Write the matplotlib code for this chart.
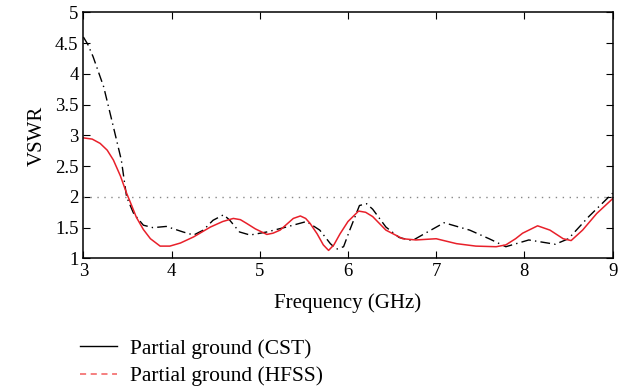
import matplotlib
matplotlib.use("Agg")
import matplotlib.pyplot as plt
from matplotlib.lines import Line2D

plt.rcParams['font.family'] = ['Liberation Serif', 'DejaVu Serif']

# HFSS curve (red solid in plot)
hfss_f = [3.0, 3.1, 3.19, 3.27, 3.34, 3.42, 3.49, 3.55, 3.6, 3.68, 3.76, 3.87, 3.98, 4.1, 4.25,
          4.44, 4.58, 4.7, 4.78, 4.85, 4.95, 5.08, 5.15, 5.23, 5.38, 5.46, 5.52, 5.57, 5.65,
          5.72, 5.78, 5.84, 5.91, 6.0, 6.12, 6.2, 6.28, 6.43, 6.62, 6.77, 7.0, 7.23, 7.45,
          7.68, 7.79, 7.9, 7.98, 8.15, 8.29, 8.44, 8.53, 8.66, 8.82, 9.0]
hfss_v = [2.96, 2.94, 2.87, 2.76, 2.6, 2.34, 2.06, 1.85, 1.67, 1.47, 1.32, 1.2, 1.2, 1.25, 1.35,
          1.51, 1.6, 1.65, 1.63, 1.57, 1.48, 1.39, 1.41, 1.46, 1.65, 1.69, 1.65, 1.57, 1.4,
          1.22, 1.13, 1.22, 1.4, 1.6, 1.77, 1.75, 1.68, 1.46, 1.32, 1.3, 1.32, 1.24, 1.2,
          1.19, 1.22, 1.32, 1.41, 1.53, 1.46, 1.32, 1.29, 1.46, 1.73, 1.97]

# CST curve (black dash-dot in plot)
cst_f = [3.0, 3.05, 3.11, 3.23, 3.34, 3.43, 3.49, 3.57, 3.68, 3.79, 3.94, 4.13, 4.25, 4.36,
         4.47, 4.59, 4.66, 4.77, 4.89, 5.08, 5.3, 5.53, 5.68, 5.8, 5.87, 5.95, 6.02, 6.13,
         6.21, 6.28, 6.43, 6.58, 6.73, 6.89, 7.09, 7.38, 7.6, 7.79, 8.05, 8.35, 8.5, 8.73, 9.0]
cst_v = [4.6, 4.48, 4.28, 3.79, 3.14, 2.6, 2.0, 1.73, 1.54, 1.5, 1.52, 1.43, 1.38, 1.46,
         1.62, 1.71, 1.62, 1.43, 1.38, 1.43, 1.51, 1.6, 1.46, 1.24, 1.15, 1.19, 1.46, 1.86,
         1.89, 1.8, 1.51, 1.34, 1.29, 1.42, 1.58, 1.46, 1.32, 1.19, 1.3, 1.23, 1.32, 1.68, 2.06]

ref_level = 2.0
x_ticks = [3, 4, 5, 6, 7, 8, 9]
y_ticks = [1, 1.5, 2, 2.5, 3, 3.5, 4, 4.5, 5]

fig = plt.figure(figsize=(6.27, 3.88), dpi=100)
ax = fig.add_axes([0.133, 0.334, 0.844, 0.634])

ax.axhline(ref_level, color='#888888', linestyle=(0, (1, 4)), linewidth=1)
ax.plot(cst_f, cst_v, color='black', linestyle=(0, (7, 3, 1, 3)), linewidth=1)
ax.plot(hfss_f, hfss_v, color='#e8202a', linewidth=1.1)

ax.set_xlim(3, 9)
ax.set_ylim(1, 5)
ax.set_xticks(x_ticks)
ax.set_yticks(y_ticks)
ax.set_yticklabels(['%g' % v for v in y_ticks])
ax.tick_params(direction='in', top=True, right=True, labelsize=13.5, length=5)
for s in ax.spines.values():
    s.set_linewidth(1.1)
ax.set_xlabel('Frequency (GHz)', fontsize=15, labelpad=9)
ax.set_ylabel('VSWR', fontsize=15, labelpad=6)

handles = [Line2D([], [], color='black', linewidth=1),
           Line2D([], [], color='#f25c5c', linestyle=(0, (4, 3)), linewidth=1.1)]
fig.legend(handles, ['Partial ground (CST)', 'Partial ground (HFSS)'],
           loc='upper left', bbox_to_anchor=(0.128, 0.127), frameon=False,
           fontsize=15.5, handlelength=1.7, handletextpad=0.6,
           labelspacing=0.35, borderaxespad=0, borderpad=0)

fig.savefig('out.png', dpi=100)
